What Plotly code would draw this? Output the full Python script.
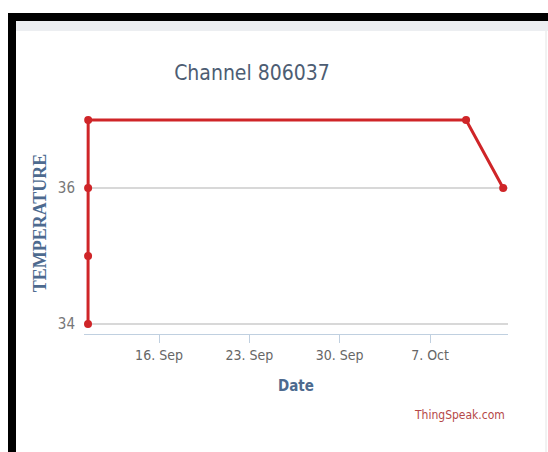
import plotly.graph_objects as go

dates = ["2019-09-10 12:00", "2019-09-10 12:05", "2019-09-10 12:10",
         "2019-09-10 12:15", "2019-10-09 19:00", "2019-10-12 16:00"]
temps = [34, 35, 36, 37, 37, 36]
tick_dates = ["2019-09-16", "2019-09-23", "2019-09-30", "2019-10-07"]
tick_labels = ["16. Sep", "23. Sep", "30. Sep", "7. Oct"]
y_ticks = [34, 36]

W, H = 548, 452
L, R, T, B = 84, 508, 112, 334

def px(x):
    return (x - L) / (R - L)

def py(y):
    return (B - y) / (B - T)

FONT = "Liberation Sans Narrow, DejaVu Sans Condensed, Arial Narrow, sans-serif"
RED = "#cf2528"

fig = go.Figure()
fig.add_trace(go.Scatter(
    x=dates, y=temps, mode="lines+markers",
    line=dict(color=RED, width=3),
    marker=dict(color=RED, size=8),
    cliponaxis=False, showlegend=False,
))

shapes = [
    dict(type="rect", xref="paper", yref="paper", x0=px(16), x1=px(548), y0=py(31), y1=py(21),
         fillcolor="#eceef1", line_width=0, layer="below"),
    dict(type="rect", xref="paper", yref="paper", x0=px(8), x1=px(548), y0=py(21), y1=py(13),
         fillcolor="black", line_width=0),
    dict(type="rect", xref="paper", yref="paper", x0=px(8), x1=px(16), y0=py(452), y1=py(13),
         fillcolor="black", line_width=0),
    dict(type="line", xref="paper", yref="paper", x0=px(546), x1=px(546), y0=py(452), y1=py(31),
         line=dict(color="#e4e4e4", width=1)),
]

fig.update_layout(
    width=W, height=H,
    margin=dict(l=L, r=W - R, t=T, b=H - B, pad=0),
    paper_bgcolor="white", plot_bgcolor="white",
    font=dict(family=FONT),
    title=dict(text="Channel 806037", x=252 / W, xanchor="center", xref="container",
               y=1 - 73 / H, yanchor="middle", yref="container",
               font=dict(family=FONT, size=21, color="#4d5d73")),
    xaxis=dict(
        type="date",
        range=["2019-09-10 04:30", "2019-10-13 01:00"],
        tickvals=tick_dates, ticktext=tick_labels,
        showgrid=False, zeroline=False,
        showline=True, linecolor="#c0d0e0", linewidth=1,
        ticks="outside", tickcolor="#c0d0e0", ticklen=8,
        tickfont=dict(family=FONT, size=14, color="#666666"),
        title=dict(text="<b>Date</b>", font=dict(family=FONT, size=15, color="#4d6a8f"), standoff=18),
    ),
    yaxis=dict(
        range=[33.854, 37.117],
        tickvals=y_ticks,
        showgrid=True, gridcolor="#d8d8d8", gridwidth=1.5,
        zeroline=False, showline=False,
        ticks="", ticklabelstandoff=8,
        tickfont=dict(family=FONT, size=15, color="#777777"),
        title=dict(text="<b>TEMPERATURE</b>",
                   font=dict(family="Liberation Serif, DejaVu Serif, serif", size=18, color="#4d6a8f"),
                   standoff=6),
    ),
    shapes=shapes,
    annotations=[
        dict(text="ThingSpeak.com", xref="paper", yref="paper", x=px(507), y=py(415),
             xanchor="right", yanchor="middle", showarrow=False,
             font=dict(family=FONT, size=12, color="#b54848")),
    ],
)

fig.write_html("out.html", config={"displayModeBar": False},
               post_script="document.body.style.margin='0';")
